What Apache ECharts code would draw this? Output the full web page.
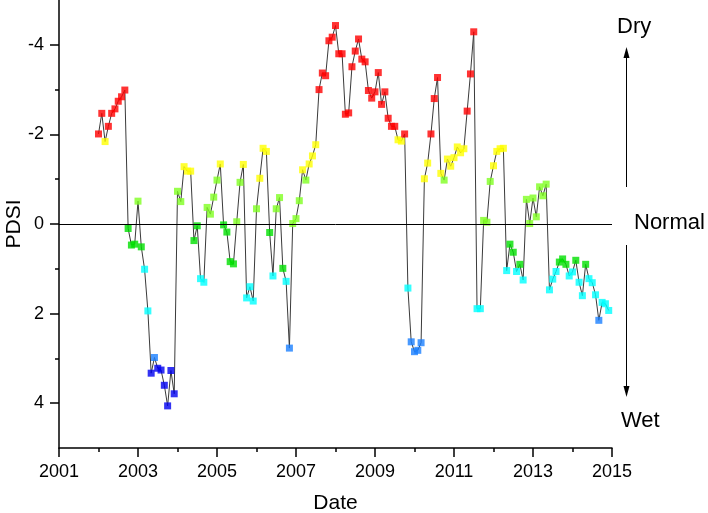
<!DOCTYPE html>
<html>
<head>
<meta charset="utf-8">
<script src="https://cdn.jsdelivr.net/npm/echarts@6/dist/echarts.min.js"></script>
<style>html,body{margin:0;padding:0;background:#fff;}#chart{width:708px;height:513px;}</style>
</head>
<body>
<div id="chart"></div>
<script>
// Monthly PDSI values, January 2002 to December 2014
const startYear = 2002;
const pdsi = [
  -2.01,-2.47,-1.84,-2.18,-2.47,-2.57,-2.74,-2.84,-2.99,0.10,0.47,0.45,
  -0.51,0.51,1.01,1.94,3.33,2.98,3.22,3.26,3.60,4.06,3.27,3.79,
  -0.73,-0.50,-1.28,-1.18,-1.18,0.37,0.04,1.22,1.30,-0.37,-0.22,-0.60,
  -0.98,-1.34,0.02,0.18,0.84,0.89,-0.05,-0.93,-1.33,1.65,1.40,1.72,
  -0.34,-1.02,-1.69,-1.62,0.19,1.16,-0.34,-0.59,0.99,1.28,2.77,-0.01,
  -0.12,-0.52,-1.21,-0.98,-1.34,-1.52,-1.77,-3.00,-3.37,-3.31,-4.09,-4.17,
  -4.43,-3.80,-3.80,-2.45,-2.48,-3.51,-3.86,-4.13,-3.68,-3.62,-2.98,-2.81,
  -2.95,-3.38,-2.67,-2.95,-2.36,-2.18,-2.18,-1.88,-1.85,-2.01,1.43,2.63,
  2.85,2.82,2.65,-1.01,-1.36,-2.01,-2.80,-3.27,-1.13,-0.98,-1.45,-1.29,
  -1.48,-1.72,-1.59,-1.68,-2.52,-3.35,-4.29,1.89,1.89,-0.08,-0.04,-0.95,
  -1.30,-1.62,-1.68,-1.69,1.04,0.45,0.63,1.06,0.90,1.25,-0.55,-0.01,
  -0.58,-0.16,-0.83,-0.63,-0.89,1.47,1.23,1.06,0.85,0.78,0.90,1.16,
  1.07,0.81,1.30,1.60,0.90,1.22,1.31,1.58,2.15,1.75,1.78,1.93
];
const xTicks = [2001, 2003, 2005, 2007, 2009, 2011, 2013, 2015];
const yTickLabels = [-4, -2, 0, 2, 4];
const yMinorTicks = [-3, -1, 1, 3];
const classLabels = ['Dry', 'Normal', 'Wet'];

const points = pdsi.map((v, i) => [startYear + i / 12, v]);

function pdsiColor(v) {
  if (v <= -2) return '#FF0000';
  if (v <= -1) return '#FFFF00';
  if (v <= 0) return '#80FF20';
  if (v < 1) return '#00E000';
  if (v < 2) return '#00FFFF';
  if (v < 3) return '#1A7FFF';
  return '#0000F0';
}

const FONT = '"Liberation Sans", Arial, sans-serif';
const chart = echarts.init(document.getElementById('chart'), null, {renderer: 'canvas'});

const axisCommon = {
  axisLine: {show: true, onZero: false, lineStyle: {color: '#000', width: 1.5}},
  splitLine: {show: false},
  nameMoveOverlap: false,
  nameTextStyle: {color: '#000', fontSize: 21, fontFamily: FONT}
};

chart.setOption({
  animation: false,
  backgroundColor: '#fff',
  grid: {left: 59, right: 96, top: 0, bottom: 65, containLabel: false, outerBoundsMode: 'none'},
  xAxis: {
    type: 'value', min: xTicks[0], max: xTicks[xTicks.length - 1], interval: 2,
    name: 'Date', nameLocation: 'middle', nameGap: 45,
    ...axisCommon,
    axisTick: {show: true, inside: false, length: 9, lineStyle: {color: '#000', width: 1.5}},
    minorTick: {show: true, splitNumber: 2, length: 4, lineStyle: {color: '#000', width: 1.5}},
    axisLabel: {color: '#000', fontSize: 18, fontFamily: FONT, margin: 15, formatter: (v) => String(v)}
  },
  yAxis: [{
    type: 'value', min: -5, max: 5, inverse: true,
    name: 'PDSI', nameLocation: 'middle', nameGap: 34, nameRotate: 90,
    ...axisCommon,
    axisTick: {show: true, length: 9, customValues: yTickLabels, lineStyle: {color: '#000', width: 1.5}},
    axisLabel: {color: '#000', fontSize: 18, fontFamily: FONT, margin: 15, customValues: yTickLabels}
  }, {
    type: 'value', min: -5, max: 5, inverse: true, position: 'left',
    axisLine: {show: false}, splitLine: {show: false},
    axisLabel: {show: false},
    axisTick: {show: true, length: 4, customValues: yMinorTicks, lineStyle: {color: '#000', width: 1.5}}
  }],
  series: [{
    type: 'line',
    data: points,
    symbol: 'none',
    lineStyle: {color: '#3a3a3a', width: 1},
    z: 2,
    markLine: {
      silent: true, symbol: 'none', label: {show: false},
      lineStyle: {color: '#000', width: 1, type: 'solid'},
      data: [{yAxis: 0}]
    }
  }, {
    type: 'scatter',
    data: points,
    symbol: 'rect',
    symbolSize: 7,
    itemStyle: {color: (p) => pdsiColor(p.value[1])},
    z: 3
  }],
  graphic: [
    {type: 'text', left: 617, top: 16, style: {text: classLabels[0], font: '22px ' + FONT, fill: '#000'}},
    {type: 'text', left: 634, top: 212, style: {text: classLabels[1], font: '22px ' + FONT, fill: '#000'}},
    {type: 'text', left: 621, top: 410, style: {text: classLabels[2], font: '22px ' + FONT, fill: '#000'}},
    {type: 'line', shape: {x1: 626.5, y1: 187, x2: 626.5, y2: 56}, style: {stroke: '#000', lineWidth: 1}},
    {type: 'polygon', shape: {points: [[626.5, 47], [623.5, 58], [629.5, 58]]}, style: {fill: '#000'}},
    {type: 'line', shape: {x1: 626.5, y1: 245, x2: 626.5, y2: 388}, style: {stroke: '#000', lineWidth: 1}},
    {type: 'polygon', shape: {points: [[626.5, 397], [623.5, 386], [629.5, 386]]}, style: {fill: '#000'}}
  ]
});
</script>
</body>
</html>
